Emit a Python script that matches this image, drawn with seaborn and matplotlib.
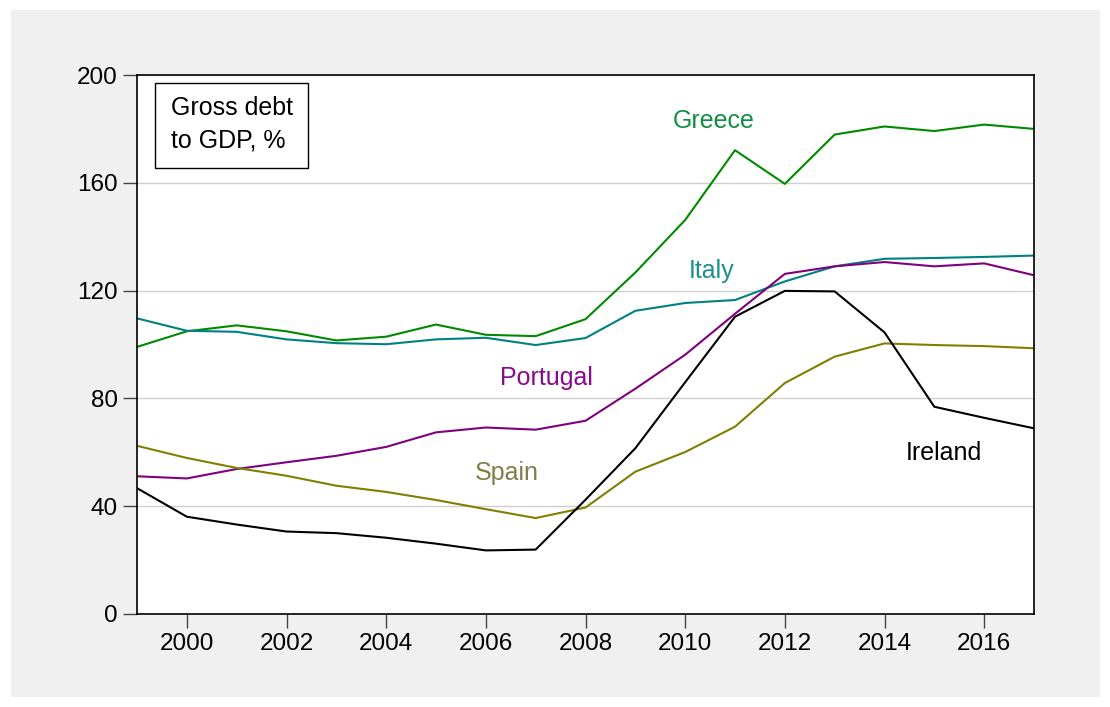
import numpy as np
import pandas as pd
import matplotlib
matplotlib.use("Agg")
import matplotlib.pyplot as plt
import seaborn as sns
from matplotlib.patches import Rectangle

# Gross debt to GDP (%)
years = list(range(1999, 2018))
greece = [99.1, 104.9, 107.1, 104.9, 101.5, 102.9, 107.4, 103.6, 103.1, 109.4, 126.7, 146.2, 172.1, 159.6, 177.9, 180.9, 179.2, 181.6, 180.0]
italy = [109.7, 105.1, 104.7, 101.9, 100.5, 100.1, 101.9, 102.5, 99.8, 102.4, 112.5, 115.4, 116.5, 123.4, 129.0, 131.8, 132.1, 132.5, 133.0]
portugal = [51.1, 50.3, 53.8, 56.3, 58.7, 62.0, 67.4, 69.2, 68.4, 71.7, 83.6, 96.2, 111.4, 126.2, 129.0, 130.6, 129.0, 130.1, 125.7]
spain = [62.4, 57.9, 54.2, 51.3, 47.6, 45.3, 42.3, 38.9, 35.6, 39.5, 52.8, 60.1, 69.5, 85.7, 95.5, 100.4, 99.8, 99.4, 98.6]
ireland = [46.7, 36.1, 33.2, 30.6, 30.0, 28.3, 26.1, 23.6, 23.9, 42.4, 61.5, 86.0, 110.3, 119.9, 119.7, 104.5, 76.9, 72.8, 68.9]

countries = ["Greece", "Italy", "Portugal", "Spain", "Ireland"]
line_colors = ["#008a00", "#008080", "#800080", "#808000", "#000000"]
label_colors = ["#0f8f45", "#1a8f8f", "#8a0a8a", "#7f7f4a", "#000000"]
label_pos = [(2010.58, 182.9), (2010.52, 127.3), (2007.21, 87.6), (2006.43, 52.3), (2015.2, 59.7)]

df = pd.DataFrame({"year": years, "Greece": greece, "Italy": italy,
                   "Portugal": portugal, "Spain": spain, "Ireland": ireland})
long = df.melt(id_vars="year", var_name="country", value_name="debt")

sns.set_style("white")
plt.rcParams["font.family"] = ["Liberation Sans", "DejaVu Sans"]
plt.rcParams["text.color"] = "black"

fig = plt.figure(figsize=(11.1, 7.07), dpi=100)
fig.patch.set_facecolor("white")
fig.patches.append(Rectangle((11 / 1110, 10 / 707), 1089 / 1110, 687 / 707,
                             transform=fig.transFigure, facecolor="#f0f0f0",
                             edgecolor="none", zorder=-10))
ax = fig.add_axes([137 / 1110, 93 / 707, 897 / 1110, 539 / 707])
ax.set_facecolor("white")

sns.lineplot(data=long, x="year", y="debt", hue="country", hue_order=countries,
             palette=dict(zip(countries, line_colors)), linewidth=1.5,
             legend=False, ax=ax)

ax.set_xlim(1999, 2017)
ax.set_ylim(0, 200)
ax.set_yticks([0, 40, 80, 120, 160, 200])
ax.set_xticks(range(1999, 2018), minor=True)
ax.set_xticks(range(2000, 2018, 2))
ax.yaxis.grid(True, color="#d0d0d0", linewidth=1)
ax.set_axisbelow(True)
ax.set_xlabel("")
ax.set_ylabel("")
for s in ax.spines.values():
    s.set_color("black")
    s.set_linewidth(1.2)
ax.tick_params(axis="both", which="major", direction="out", length=10, width=1,
               color="#444444", labelsize=17.5, labelcolor="black", pad=4)
ax.tick_params(axis="x", which="minor", direction="out", length=10, width=1, color="#444444")
ax.tick_params(axis="y", left=True)
ax.tick_params(axis="x", bottom=True)

for name, c, (xp, yp) in zip(countries, label_colors, label_pos):
    ax.text(xp, yp, name, color=c, fontsize=18, ha="center", va="center")

# boxed note in the top left corner
ax.add_patch(Rectangle((0.0201, 0.8275), 0.1705, 0.1575, transform=ax.transAxes,
                       facecolor="white", edgecolor="black", linewidth=1, zorder=5))
ax.text(0.0379, 0.9388, "Gross debt", transform=ax.transAxes, fontsize=18,
        color="black", ha="left", va="center", zorder=6)
ax.text(0.0379, 0.8776, "to GDP, %", transform=ax.transAxes, fontsize=18,
        color="black", ha="left", va="center", zorder=6)

fig.savefig("out.png", dpi=100)
